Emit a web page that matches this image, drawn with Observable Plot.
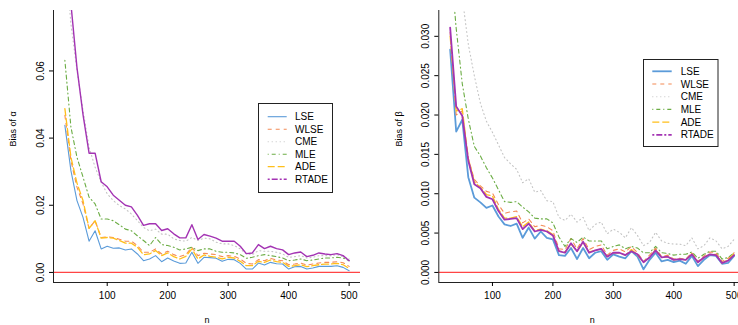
<!DOCTYPE html>
<html><head><meta charset="utf-8">
<script src="https://cdn.jsdelivr.net/npm/d3@7"></script>
<script src="https://cdn.jsdelivr.net/npm/@observablehq/plot@0.6"></script>
<style>
html,body{margin:0;padding:0;background:#fff;overflow:hidden;width:738px;height:325px}
#wrap{position:relative;width:746px;height:325px}
#wrap > .panel{position:absolute;top:0}
#legend{position:absolute;left:0;top:0;pointer-events:none}
svg{font-family:"Liberation Sans",Arial,sans-serif}
</style></head><body><div id="wrap"></div>
<script>
// sample sizes
const n = [30,40,50,60,70,80,90,100,110,120,130,140,150,160,170,180,190,200,210,220,230,240,250,260,270,280,290,300,310,320,330,340,350,360,370,380,390,400,410,420,430,440,450,460,470,480,490,500];
const methods = ["LSE","WLSE","CME","MLE","ADE","RTADE"];

// Bias of alpha
const LSE_a   = [0.0438,0.0303,0.0214,0.0164,0.0093,0.0124,0.0070,0.0078,0.0072,0.0073,0.0067,0.0070,0.0055,0.0035,0.0040,0.0050,0.0032,0.0043,0.0034,0.0027,0.0028,0.0060,0.0027,0.0045,0.0044,0.0042,0.0033,0.0039,0.0038,0.0027,0.0010,0.0010,0.0028,0.0022,0.0030,0.0026,0.0025,0.0010,0.0017,0.0018,0.0010,0.0013,0.0018,0.0018,0.0018,0.0020,0.0015,0.0005];
const WLSE_a  = [0.0468,0.0333,0.0254,0.0204,0.0131,0.0154,0.0104,0.0106,0.0104,0.0099,0.0093,0.0093,0.0080,0.0060,0.0060,0.0070,0.0055,0.0063,0.0053,0.0047,0.0053,0.0075,0.0050,0.0057,0.0055,0.0053,0.0047,0.0050,0.0048,0.0040,0.0027,0.0025,0.0038,0.0035,0.0042,0.0037,0.0035,0.0023,0.0025,0.0028,0.0022,0.0025,0.0028,0.0030,0.0030,0.0032,0.0029,0.0018];
const CME_a   = [0.0950,0.0740,0.0602,0.0483,0.0373,0.0313,0.0269,0.0234,0.0214,0.0199,0.0189,0.0174,0.0154,0.0134,0.0124,0.0129,0.0114,0.0114,0.0100,0.0095,0.0093,0.0104,0.0095,0.0102,0.0100,0.0090,0.0085,0.0085,0.0080,0.0070,0.0055,0.0053,0.0065,0.0063,0.0063,0.0060,0.0055,0.0045,0.0047,0.0050,0.0043,0.0045,0.0050,0.0050,0.0050,0.0053,0.0047,0.0040];
const MLE_a   = [0.0632,0.0433,0.0343,0.0284,0.0224,0.0204,0.0159,0.0159,0.0154,0.0142,0.0129,0.0124,0.0109,0.0095,0.0080,0.0104,0.0083,0.0080,0.0075,0.0067,0.0070,0.0075,0.0065,0.0070,0.0070,0.0063,0.0060,0.0060,0.0058,0.0053,0.0042,0.0045,0.0050,0.0053,0.0050,0.0047,0.0043,0.0035,0.0037,0.0040,0.0035,0.0037,0.0040,0.0043,0.0043,0.0045,0.0043,0.0035];
const ADE_a   = [0.0488,0.0343,0.0266,0.0214,0.0131,0.0154,0.0102,0.0104,0.0102,0.0095,0.0087,0.0087,0.0075,0.0053,0.0055,0.0065,0.0050,0.0058,0.0047,0.0040,0.0048,0.0070,0.0040,0.0052,0.0048,0.0045,0.0040,0.0045,0.0043,0.0033,0.0020,0.0020,0.0033,0.0030,0.0037,0.0032,0.0030,0.0018,0.0020,0.0023,0.0017,0.0020,0.0023,0.0025,0.0025,0.0027,0.0023,0.0012];
const RTADE_a = [0.1050,0.0800,0.0610,0.0470,0.0355,0.0355,0.0270,0.0255,0.0230,0.0215,0.0200,0.0195,0.0170,0.0140,0.0145,0.0145,0.0125,0.0130,0.0115,0.0103,0.0103,0.0142,0.0098,0.0113,0.0108,0.0102,0.0093,0.0093,0.0093,0.0078,0.0056,0.0058,0.0083,0.0071,0.0078,0.0071,0.0067,0.0053,0.0058,0.0061,0.0047,0.0051,0.0058,0.0055,0.0053,0.0056,0.0050,0.0035];

// Bias of beta
const LSE_b   = [0.0283,0.0179,0.0194,0.0121,0.0095,0.0089,0.0082,0.0085,0.0071,0.0061,0.0059,0.0062,0.0044,0.0057,0.0043,0.0052,0.0044,0.0042,0.0022,0.0021,0.0031,0.0017,0.0031,0.0018,0.0025,0.0027,0.0016,0.0023,0.0020,0.0018,0.0027,0.0020,0.0004,0.0016,0.0025,0.0014,0.0016,0.0013,0.0015,0.0011,0.0021,0.0008,0.0016,0.0022,0.0021,0.0011,0.0012,0.0021];
const WLSE_b  = [0.0305,0.0200,0.0205,0.0145,0.0118,0.0110,0.0103,0.0101,0.0086,0.0075,0.0077,0.0078,0.0063,0.0068,0.0058,0.0060,0.0058,0.0053,0.0030,0.0029,0.0043,0.0030,0.0043,0.0029,0.0033,0.0035,0.0022,0.0028,0.0030,0.0026,0.0033,0.0025,0.0014,0.0022,0.0031,0.0020,0.0022,0.0017,0.0018,0.0017,0.0025,0.0014,0.0021,0.0026,0.0025,0.0014,0.0018,0.0025];
const CME_b   = [0.0600,0.0450,0.0350,0.0290,0.0250,0.0215,0.0192,0.0178,0.0162,0.0146,0.0138,0.0131,0.0114,0.0119,0.0102,0.0104,0.0091,0.0090,0.0070,0.0066,0.0074,0.0064,0.0070,0.0053,0.0061,0.0064,0.0049,0.0055,0.0051,0.0044,0.0057,0.0047,0.0034,0.0038,0.0051,0.0040,0.0037,0.0036,0.0036,0.0034,0.0044,0.0030,0.0034,0.0044,0.0040,0.0030,0.0033,0.0042];
const MLE_b   = [0.0400,0.0310,0.0240,0.0195,0.0160,0.0148,0.0133,0.0120,0.0105,0.0090,0.0089,0.0090,0.0083,0.0077,0.0069,0.0068,0.0068,0.0063,0.0045,0.0033,0.0043,0.0038,0.0045,0.0040,0.0040,0.0040,0.0030,0.0033,0.0035,0.0030,0.0033,0.0031,0.0025,0.0025,0.0033,0.0025,0.0024,0.0022,0.0023,0.0023,0.0026,0.0018,0.0023,0.0027,0.0027,0.0017,0.0019,0.0025];
const ADE_b   = [0.0300,0.0205,0.0208,0.0145,0.0115,0.0108,0.0099,0.0097,0.0080,0.0069,0.0069,0.0071,0.0058,0.0064,0.0053,0.0055,0.0053,0.0048,0.0027,0.0026,0.0036,0.0027,0.0038,0.0026,0.0028,0.0030,0.0020,0.0025,0.0025,0.0022,0.0029,0.0022,0.0013,0.0019,0.0029,0.0019,0.0020,0.0016,0.0017,0.0016,0.0024,0.0013,0.0019,0.0023,0.0023,0.0012,0.0016,0.0024];
const RTADE_b = [0.0311,0.0211,0.0199,0.0142,0.0112,0.0107,0.0096,0.0093,0.0078,0.0067,0.0068,0.0069,0.0055,0.0062,0.0052,0.0054,0.0052,0.0047,0.0027,0.0025,0.0037,0.0027,0.0039,0.0025,0.0028,0.0030,0.0020,0.0025,0.0025,0.0022,0.0027,0.0023,0.0013,0.0019,0.0028,0.0019,0.0020,0.0016,0.0017,0.0016,0.0023,0.0013,0.0019,0.0023,0.0022,0.0012,0.0015,0.0022];

const xTicks = [100,200,300,400,500];
const yTicksA = [0,0.02,0.04,0.06];
const yTicksB = [0,0.005,0.010,0.015,0.020,0.025,0.030];

const colors = ["#5b9bd9","#f48a55","#c4c4c4","#6cad45","#ffbf1a","#a333b3"];
const legendDashes = [null,"4,4","1,3","1,3,4,3","7,3","2,2,6,2"];
const lineDashes   = [null,"4,4","1,3","1,3,4,3","7,3",null];

function panel(opts){
  const {vals, yDomain, yTicks, yFmt, yLabel, marginLeft, width, lw} = opts;
  const xDomain = [11.2, 518.8];
  const data = methods.flatMap((m,i)=> n.map((x,j)=>({n:x, v:vals[i][j], m})));
  const marks = [
    ...methods.map((m,i)=>Plot.line(data.filter(d=>d.m===m), {
      x:"n", y:"v", stroke:colors[i], strokeWidth:lw[i],
      strokeDasharray: lineDashes[i] || undefined, clip:true, strokeLinejoin:"round"
    })),
    Plot.ruleY([0], {stroke:"#ff4545", strokeWidth:1.3}),
    Plot.ruleX([xDomain[0]], {stroke:"#222", strokeWidth:1}),
    Plot.ruleY([yDomain[0]], {stroke:"#222", strokeWidth:1}),
    Plot.axisX({ticks:xTicks, tickSize:4, tickPadding:5, fontSize:10, label:null}),
    Plot.axisY({ticks:yTicks, tickFormat:yFmt, tickSize:4, tickPadding:6, tickRotate:-90, fontSize:10, label:null}),
    Plot.text([yLabel], {frameAnchor:"left", dx:-40, rotate:-90, fontSize:9}),
    Plot.text(["n"], {frameAnchor:"bottom", dy:40, fontSize:9})
  ];
  return Plot.plot({
    width, height:325, marginLeft, marginRight: opts.marginRight, marginTop:10, marginBottom:43,
    x:{domain:xDomain}, y:{domain:yDomain},
    style:{fontFamily:"'Liberation Sans', Arial, sans-serif", background:"white", overflow:"visible"},
    marks
  });
}

const wrap = document.getElementById("wrap");
const p1 = panel({vals:[LSE_a,WLSE_a,CME_a,MLE_a,ADE_a,RTADE_a], yDomain:[-0.003,0.078], yTicks:yTicksA,
  yFmt:d3.format(".2f"), yLabel:"Bias of α", marginLeft:53, marginRight:9, width:369, lw:[1.1,1.1,1.1,1.1,1.3,1.4]});
const p2 = panel({vals:[LSE_b,WLSE_b,CME_b,MLE_b,ADE_b,RTADE_b], yDomain:[-0.00128,0.03328], yTicks:yTicksB,
  yFmt:d3.format(".3f"), yLabel:"Bias of β", marginLeft:69.3, marginRight:0, width:376, lw:[1.8,1.1,1.1,1.1,1.3,1.8]});
const d1 = document.createElement("div"); d1.className="panel"; d1.style.left="0px"; d1.appendChild(p1);
const d2 = document.createElement("div"); d2.className="panel"; d2.style.left="369px"; d2.appendChild(p2);
wrap.appendChild(d1); wrap.appendChild(d2);

// legends (overlay)
const leg = d3.select(wrap).append("svg").attr("id","legend").attr("width",746).attr("height",325);
function legend(box, y0, dy, lx1, lx2, tx, lw){
  const g = leg.append("g");
  g.append("rect").attr("x",box[0]).attr("y",box[1]).attr("width",box[2]).attr("height",box[3])
    .attr("fill","white").attr("stroke","#222").attr("stroke-width",1);
  methods.forEach((m,i)=>{
    const y = y0 + dy*i;
    g.append("line").attr("x1",lx1).attr("x2",lx2).attr("y1",y).attr("y2",y)
      .attr("stroke",colors[i]).attr("stroke-width",lw[i]).attr("stroke-dasharray",legendDashes[i]);
    g.append("text").attr("x",tx).attr("y",y).attr("dy","0.35em").attr("font-size",10)
      .attr("font-family","'Liberation Sans', Arial, sans-serif").text(m);
  });
}
legend([258.5,103.5,74,89], 116.7, 12.5, 267.7, 286.7, 295, [1.1,1.1,1.1,1.1,1.3,1.4]);
legend([643.5,59.5,74.5,87], 71.3, 12.7, 652.3, 671.7, 680.7, [1.8,1.1,1.1,1.1,1.3,1.8]);
</script></body></html>
